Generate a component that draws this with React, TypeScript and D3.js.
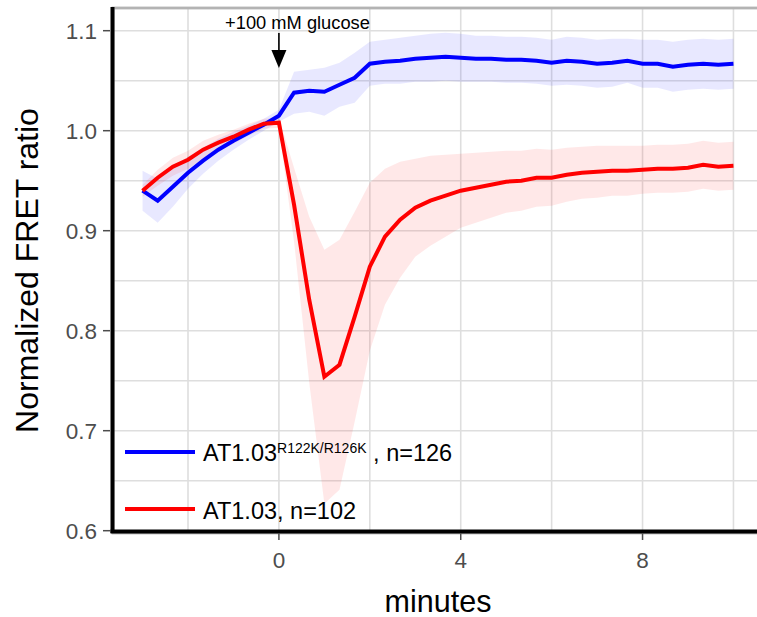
import React from 'react';
import * as d3 from 'd3';

const minutes = [
	-3, -2.667, -2.333, -2, -1.667, -1.333, -1, -0.667, -0.333, 0,
	0.333, 0.667, 1, 1.333, 1.667, 2, 2.333, 2.667, 3, 3.333,
	3.667, 4, 4.333, 4.667, 5, 5.333, 5.667, 6, 6.333, 6.667,
	7, 7.333, 7.667, 8, 8.333, 8.667, 9, 9.333, 9.667, 10,
];

// AT1.03 R122K/R126K (blue)
const blueMean = [
	0.94, 0.93, 0.944, 0.958, 0.97, 0.981, 0.99, 0.998, 1.006, 1.015,
	1.038, 1.04, 1.039, 1.046, 1.053, 1.067, 1.069, 1.07, 1.072, 1.073,
	1.074, 1.073, 1.072, 1.072, 1.071, 1.071, 1.07, 1.068, 1.07, 1.069,
	1.067, 1.068, 1.07, 1.067, 1.067, 1.064, 1.066, 1.067, 1.066, 1.067,
];
const blueErr = [
	0.02, 0.022, 0.02, 0.016, 0.013, 0.011, 0.009, 0.007, 0.006, 0.006,
	0.021, 0.021, 0.024, 0.022, 0.025, 0.022, 0.022, 0.023, 0.023, 0.024,
	0.024, 0.024, 0.023, 0.023, 0.023, 0.023, 0.023, 0.023, 0.024, 0.024,
	0.024, 0.024, 0.022, 0.024, 0.024, 0.025, 0.025, 0.025, 0.025, 0.025,
];

// AT1.03 (red)
const redMean = [
	0.94, 0.953, 0.964, 0.971, 0.981, 0.988, 0.994, 1.001, 1.007, 1.008,
	0.926, 0.831, 0.754, 0.766, 0.814, 0.864, 0.894, 0.911, 0.923, 0.93,
	0.935, 0.94, 0.943, 0.946, 0.949, 0.95, 0.953, 0.953, 0.956, 0.958,
	0.959, 0.96, 0.96, 0.961, 0.962, 0.962, 0.963, 0.966, 0.964, 0.965,
];
const redErr = [
	0.006, 0.008, 0.009, 0.009, 0.009, 0.008, 0.007, 0.006, 0.005, 0.005,
	0.037, 0.083, 0.127, 0.125, 0.105, 0.084, 0.068, 0.058, 0.049, 0.045,
	0.041, 0.037, 0.035, 0.033, 0.031, 0.03, 0.029, 0.028, 0.027, 0.026,
	0.026, 0.025, 0.025, 0.024, 0.024, 0.024, 0.024, 0.024, 0.024, 0.024,
];

const yTicks = [0.6, 0.7, 0.8, 0.9, 1.0, 1.1];
const yGrid = [0.6, 0.65, 0.7, 0.75, 0.8, 0.85, 0.9, 0.95, 1.0, 1.05, 1.1];
const xTicks = [0, 4, 8];
const xGrid = [-2, 0, 2, 4, 6, 8, 10];

const font = 'Liberation Sans, Arial, sans-serif';

const App = () => {
	const W = 757;
	const H = 617;
	const m = { l: 113, r: 763, t: 8, b: 533 };
	const x = d3.scaleLinear().domain([-3.65, 10.65]).range([m.l, m.r]);
	const y = d3.scaleLinear().domain([0.5977, 1.1227]).range([m.b, m.t]);

	const pts = (mean: number[], err: number[]) => minutes.map((t, i) => ({ t, v: mean[i], e: err[i] }));
	const line = d3.line<any>().x((d) => x(d.t)).y((d) => y(d.v));
	const area = d3
		.area<any>()
		.x((d) => x(d.t))
		.y0((d) => y(d.v - d.e))
		.y1((d) => y(d.v + d.e));

	const blue = pts(blueMean, blueErr);
	const red = pts(redMean, redErr);

	return (
		<svg width={W} height={H} style={{ position: 'absolute', left: 0, top: 0 }} fontFamily={font}>
			<rect x={0} y={0} width={W} height={H} fill="#fff" />
			{/* grid */}
			{yGrid.map((v) => (
				<line key={'gy' + v} x1={m.l} x2={m.r} y1={y(v)} y2={y(v)} stroke="#dedede" strokeWidth={1.6} />
			))}
			{xGrid.map((v) => (
				<line key={'gx' + v} x1={x(v)} x2={x(v)} y1={m.t} y2={m.b} stroke="#dedede" strokeWidth={1.6} />
			))}
			<rect x={m.l} y={m.t} width={m.r - m.l} height={m.b - m.t} fill="none" stroke="#b3b3b3" strokeWidth={2.8} />

			{/* ribbons */}
			<path d={area(blue)} fill="#0000ff" fillOpacity={0.09} />
			<path d={area(red)} fill="#ff0000" fillOpacity={0.09} />
			<path d={line(blue)} fill="none" stroke="#0000ff" strokeWidth={4} />
			<path d={line(red)} fill="none" stroke="#ff0000" strokeWidth={4} />

			{/* axes */}
			<line x1={m.l - 0.5} x2={m.l - 0.5} y1={m.t - 1} y2={m.b} stroke="#000" strokeWidth={4} />
			<line x1={m.l - 2.5} x2={m.r} y1={m.b - 1.5} y2={m.b - 1.5} stroke="#000" strokeWidth={4} />
			{yTicks.map((v) => (
				<g key={'yt' + v}>
					<line x1={m.l - 10} x2={m.l - 3} y1={y(v)} y2={y(v)} stroke="#4d4d4d" strokeWidth={1.5} />
					<text x={m.l - 16} y={y(v)} dy="0.36em" textAnchor="end" fontSize={22.5} fill="#4d4d4d">
						{d3.format('.1f')(v)}
					</text>
				</g>
			))}
			{xTicks.map((v) => (
				<g key={'xt' + v}>
					<line x1={x(v)} x2={x(v)} y1={m.b} y2={m.b + 7} stroke="#4d4d4d" strokeWidth={1.5} />
					<text x={x(v)} y={m.b + 35} textAnchor="middle" fontSize={22.5} fill="#4d4d4d">
						{v}
					</text>
				</g>
			))}
			<text x={(m.l + m.r) / 2} y={612} textAnchor="middle" fontSize={30.5} fill="#000">
				minutes
			</text>
			<text transform={`translate(38, ${(m.t + m.b) / 2}) rotate(-90)`} textAnchor="middle" fontSize={32} fill="#000">
				Normalized FRET ratio
			</text>

			{/* glucose annotation */}
			<text x={297.5} y={29} textAnchor="middle" fontSize={18.3} fill="#000">
				+100 mM glucose
			</text>
			<line x1={x(0)} x2={x(0)} y1={33} y2={55} stroke="#000" strokeWidth={1.6} />
			<path d={`M${x(0) - 7.5},50 L${x(0) + 7.5},50 L${x(0)},68 Z`} fill="#000" />

			{/* legend */}
			<line x1={125} x2={195} y1={452} y2={452} stroke="#0000ff" strokeWidth={4} />
			<text x={203} y={461} fontSize={23.5} fill="#000">
				AT1.03
				<tspan dy={-8} fontSize={14}>R122K/R126K</tspan>
				<tspan dy={8}> , n=126</tspan>
			</text>
			<line x1={125} x2={195} y1={509} y2={509} stroke="#ff0000" strokeWidth={4} />
			<text x={203} y={518.5} fontSize={23.5} fill="#000">
				AT1.03, n=102
			</text>
		</svg>
	);
};

export default App;
